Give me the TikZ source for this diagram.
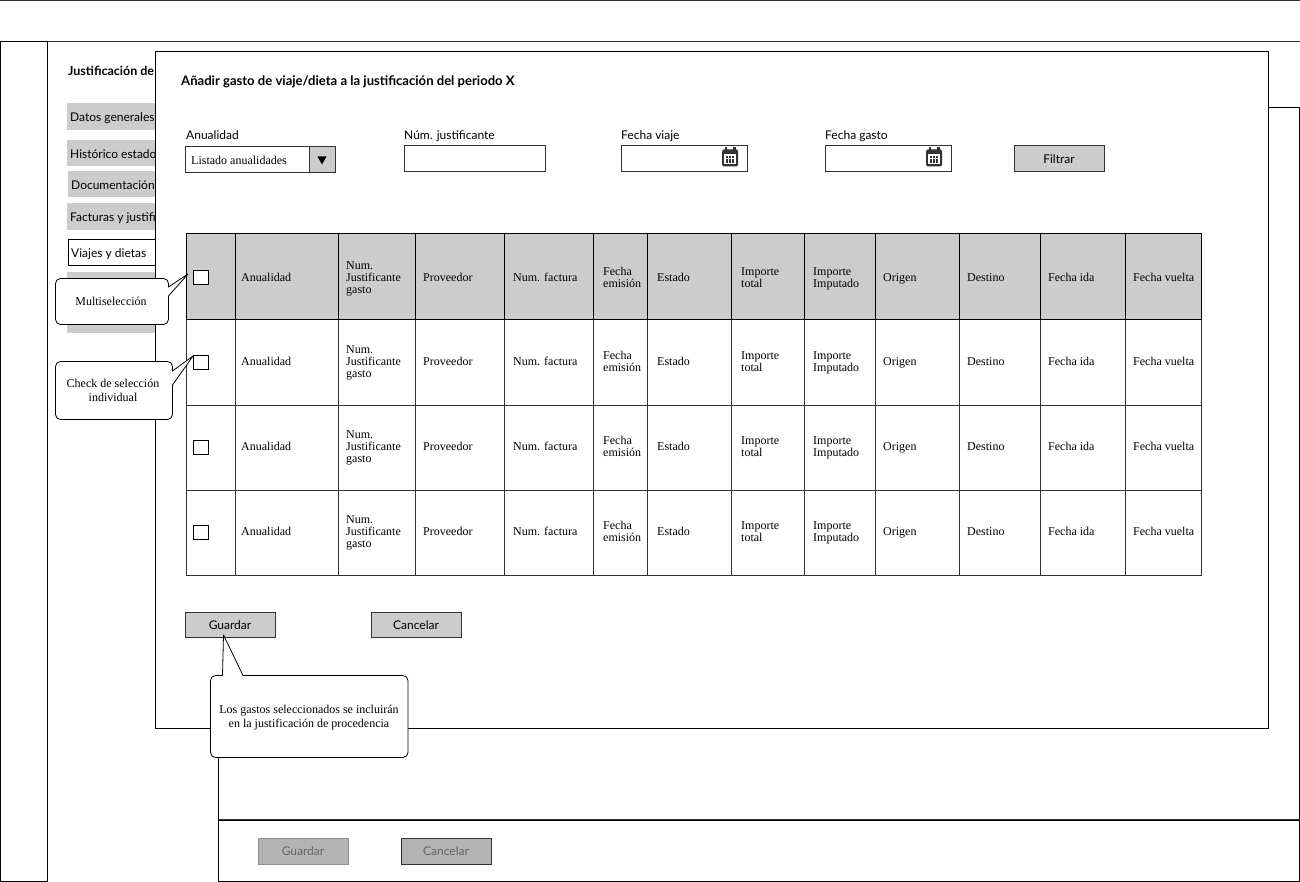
\documentclass[tikz,border=0pt]{standalone}
\usepackage{fontspec}
\setmainfont{Liberation Serif}
\newfontfamily\uifont{Lato}
\newcommand{\ust}{\rule[-2.5pt]{0pt}{10pt}}
\tikzset{
  frame/.style={draw=black,line width=1pt,fill=white,inner sep=0pt},
  grayitem/.style={fill=gray80,inner sep=0pt},
  whiteitem/.style={draw=black,line width=1pt,fill=white,inner sep=0pt},
  uitext/.style={font=\uifont\fontsize{12}{14}\selectfont,inner sep=0pt,text=black},
  serif/.style={font=\fontsize{12}{12}\selectfont,inner sep=0pt,align=left,text=black},
  serifc/.style={font=\fontsize{12}{14}\selectfont,inner sep=0pt,align=center,text=black},
  inputbox/.style={draw=dark,line width=1pt,fill=white,inner sep=0pt},
  btn/.style={draw=dark,line width=1pt,fill=gray80,inner sep=0pt,font=\uifont\fontsize{12}{14}\selectfont,text=black},
  hdrcell/.style={draw=black,line width=1pt,fill=gray80,inner sep=0pt},
  bodycell/.style={draw=dark,line width=.9pt,fill=white,inner sep=0pt},
  chk/.style={draw=black,line width=1pt,fill=white,inner sep=0pt,minimum size=14.5pt},
  callout/.style={draw=black,line width=.8pt,fill=white,line join=round},
  calicon/.pic={
    \fill[dark,rounded corners=1.5] (0,2) rectangle (16,19);
    \fill[dark] (2.5,0) rectangle (5,3);
    \fill[dark] (11,0) rectangle (13.5,3);
    \fill[white] (2,7) rectangle (14,17);
    \foreach \a in {4,7,10}{\foreach \b in {9,11.5,14}{\fill[dark] (\a,\b) rectangle ++(2,1.8);}}
  }
}
\definecolor{gray80}{HTML}{CCCCCC}
\definecolor{dark}{HTML}{333333}
\definecolor{mute}{HTML}{B3B3B3}
\definecolor{mutetext}{HTML}{666666}
\newcommand{\nbx}[7]{\node[#1,minimum width={#5pt-#3pt},minimum height={#6pt-#4pt}] (#2) at ({(#3+#5)/2},{(#4+#6)/2}) {#7};}
\begin{document}
\begin{tikzpicture}[x=1pt,y=-1pt]
\useasboundingbox (0,0) rectangle (1300,882);
\fill[white] (0,0) rectangle (1300,882);
% shell
\nbx{frame,draw=dark}{topbar}{-1}{0.5}{1301}{42}{}
\nbx{frame}{sidebar}{0}{42}{47.5}{881}{}
\nbx{frame}{mainpanel}{218.5}{107.5}{1299}{820}{}
\nbx{frame}{footerbar}{218.5}{820}{1299}{881}{}
\draw[dark,line width=1.4pt] (footerbar.north west) -- (footerbar.north east);
\nbx{btn,draw=mute!80!black,fill=mute,text=mutetext}{oldsave}{258}{838}{348}{864}{Guardar}
\nbx{btn,fill=mute,text=mutetext}{oldcancel}{401}{838}{491}{864}{Cancelar}
% page underneath
\node[uitext,anchor=west,font=\uifont\bfseries\fontsize{12.5}{14}\selectfont] (pagetitle) at (68,71) {Justificación de};
\nbx{grayitem}{i1}{67}{103}{155}{130}{}
\nbx{grayitem}{i2}{67}{140}{155}{166}{}
\nbx{grayitem}{i3}{68}{171}{155}{197}{}
\nbx{grayitem}{i4}{67}{203}{155}{230}{}
\nbx{whiteitem}{i5}{68.5}{239.5}{155}{266}{}
\nbx{grayitem}{i6}{67}{272}{155}{333}{}
\node[uitext,anchor=west] (t1) at (70,117.85) {\ust Datos generales};
\node[uitext,anchor=west] (t2) at (70,155.15) {\ust Histórico estado};
\node[uitext,anchor=west] (t3) at (71,186.15) {\ust Documentación};
\node[uitext,anchor=west] (t4) at (70,217.85) {\ust Facturas y justifi};
\node[uitext,anchor=west] (t5) at (71,253.85) {\ust Viajes y dietas};
% modal
\nbx{frame}{modal}{155.5}{51.5}{1268.5}{728.5}{}
\node[uitext,anchor=west,font=\uifont\bfseries\fontsize{13.08}{15}\selectfont] (modaltitle) at (181,82) {Añadir gasto de viaje/dieta a la justificación del periodo X};
% filters
\node[uitext,anchor=west] (lb1) at (186,136.15) {\ust Anualidad};
\node[uitext,anchor=west] (lb2) at (404,136.15) {\ust Núm. justificante};
\node[uitext,anchor=west] (lb3) at (621,136.15) {\ust Fecha viaje};
\node[uitext,anchor=west] (lb4) at (825,136.15) {\ust Fecha gasto};
\nbx{inputbox}{dd}{185}{147}{335}{173}{}
\nbx{inputbox,fill=gray80}{ddbtn}{309}{147}{335}{173}{}
\node[serif,anchor=west] (ddtext) at (191,160) {Listado anualidades};
\fill[black] (317.5,156.5) -- (326.5,156.5) -- (322,164.5) -- cycle;
\nbx{inputbox}{in1}{404}{146}{545}{171.5}{}
\nbx{inputbox}{in2}{621}{146}{747}{171.5}{}
\nbx{inputbox}{in3}{825}{146}{951}{171.5}{}
\pic at (722,147.5) {calicon};
\pic at (926,147.5) {calicon};
\nbx{btn}{filtrar}{1014}{146}{1104}{171.5}{Filtrar}
% table: rows drawn from the bottom up so the header rule stays on top
\foreach \r/\ya/\yb/\st/\yt/\yc in {3/490.5/575.5/bodycell/532.5/532.5,2/405/490.5/bodycell/447.5/447.5,1/319.5/405/bodycell/362.5/362.5,0/234/319.5/hdrcell/278.5/277.5}{
  \nbx{\st}{cell-\r-0}{186}{\ya}{235}{\yb}{}
  \foreach \c/\xa/\xb/\xt/\tx in {
    1/235/338.5/241/{Anualidad},
    2/338.5/415.5/346/{Num.\\Justificante\\gasto},
    3/415.5/504.5/423/{Proveedor},
    4/504.5/593.5/513/{Num. factura},
    5/593.5/647.5/603/{Fecha\\emisión},
    6/647.5/731/657/{Estado},
    7/731/804.5/741/{Importe\\total},
    8/804.5/875.5/813/{Importe\\Imputado},
    9/875.5/959.5/883/{Origen},
    10/959.5/1040/967/{Destino},
    11/1040/1125.5/1048/{Fecha ida},
    12/1125.5/1201/1133/{Fecha vuelta}}{
    \nbx{\st}{cell-\r-\c}{\xa}{\ya}{\xb}{\yb}{}
    \node[serif,anchor=west] (txt-\r-\c) at (\xt,\yt) {\rule{0pt}{8.5pt}\tx\rule[-2.5pt]{0pt}{2.5pt}};
  }
  \node[chk] (chk-\r) at (201,\yc) {};
}
% action buttons
\nbx{btn}{guardar}{185}{612}{275}{637}{\rule{0pt}{11pt}Guardar}
\nbx{btn}{cancelar}{371}{612}{461}{637}{\rule{0pt}{11pt}Cancelar}
% callouts
\coordinate (tip0) at (188,274);
\coordinate (tip1) at (193,356);
\coordinate (guardartip) at (223.5,635);
\draw[callout] (168.5,296) [rounded corners=5] -- (168.5,324.5) -- (55.5,324.5) -- (55.5,278.5) -- (168.5,278.5) [sharp corners] -- (168.5,287) -- (tip0) -- (168.5,296);
\node[serifc] (c1) at (111,301) {Multiselección};
\draw[callout] (172.5,385) [rounded corners=5] -- (172.5,419.5) -- (55.5,419.5) -- (55.5,361.5) -- (172.5,361.5) [sharp corners] -- (172.5,371) -- (tip1) -- (172.5,385);
\node[serifc] (c2) at (113,390) {Check de selección\\individual};
\draw[callout] (243,675.5) [rounded corners=5] -- (408,675.5) -- (408,757.5) -- (210.5,757.5) -- (210.5,675.5) [sharp corners] -- (222.5,675.5) -- (guardartip) -- (243,675.5);
\node[serifc] (c3) at (309,717.5) {Los gastos seleccionados se incluirán\\en la justificación de procedencia};
\end{tikzpicture}
\end{document}
